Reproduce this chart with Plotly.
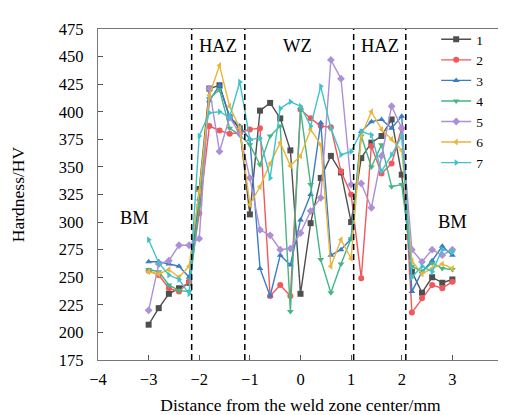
import plotly.graph_objects as go

x_mm = [round(-3 + 0.2 * i, 1) for i in range(31)]

s1 = [207, 222, 235, 240, 245, 330, 421, 424, 395, 385, 307, 401, 408, 394, 365, 235,
      299, 340, 360, 345, 300, 358, 372, 378, 393, 343, 255, 236, 250, 245, 248]
s2 = [256, 252, 240, 237, 246, 308, 387, 383, 380, 381, 384, 385, 233, 243, 233, 402,
      394, 387, 386, 346, 325, 249, 369, 344, 353, 385, 218, 231, 243, 240, 246]
s3 = [264, 264, 262, 260, 250, 321, 410, 424, 395, 387, 375, 258, 233, 270, 261, 302,
      325, 390, 270, 275, 285, 382, 391, 393, 385, 396, 237, 255, 265, 278, 270]
s4 = [257, 255, 243, 238, 237, 315, 412, 420, 385, 379, 370, 352, 378, 387, 219, 402,
      334, 266, 236, 262, 285, 378, 350, 370, 332, 334, 260, 255, 263, 258, 257]
s5 = [220, 262, 265, 279, 279, 285, 421, 364, 395, 380, 340, 293, 288, 275, 276, 290,
      310, 322, 447, 430, 334, 335, 313, 360, 405, 385, 275, 264, 275, 270, 275]
s6 = [255, 253, 257, 250, 260, 328, 415, 442, 405, 385, 316, 332, 353, 372, 351, 360,
      384, 370, 260, 284, 267, 378, 400, 384, 375, 365, 265, 253, 258, 262, 258]
s7 = [284, 263, 252, 248, 235, 378, 399, 400, 395, 427, 375, 376, 340, 403, 409, 405,
      387, 423, 385, 361, 364, 382, 379, 346, 361, 378, 250, 260, 255, 275, 273]

names = ["1", "2", "3", "4", "5", "6", "7"]
series = [s1, s2, s3, s4, s5, s6, s7]
colors = ["#4f4f4f", "#f0595b", "#3a7cc6", "#44b686", "#ad8fd6", "#e9b53c", "#3fc3cb"]
symbols = ["square", "circle", "triangle-up", "triangle-down", "diamond",
           "triangle-left", "triangle-right"]

boundaries = [-2.15, -1.1, 1.05, 2.08]
zone_labels = ["BM", "HAZ", "WZ", "HAZ", "BM"]
zone_x = [-3.28, -1.62, -0.05, 1.58, 3.0]
zone_y = [304, 460, 460, 460, 300]

font_family = "Liberation Serif, Times New Roman, serif"

fig = go.Figure()
for nm, ys, c, sym in zip(names, series, colors, symbols):
    fig.add_trace(go.Scatter(
        x=x_mm, y=ys, name=nm, mode="lines+markers",
        line=dict(color=c, width=1.4),
        marker=dict(color=c, symbol=sym, size=6),
    ))

for b in boundaries:
    fig.add_shape(type="line", x0=b, x1=b, y0=0, y1=1, xref="x", yref="paper",
                  line=dict(color="black", width=1.5, dash="6px,4px"))

for t, xx, yy in zip(zone_labels, zone_x, zone_y):
    fig.add_annotation(x=xx, y=yy, text=t, showarrow=False,
                       font=dict(size=18.5, color="black", family=font_family))

fig.update_layout(
    width=506, height=415,
    margin=dict(l=90, r=11, t=21, b=63),
    paper_bgcolor="white", plot_bgcolor="white",
    font=dict(family=font_family, size=16.5, color="black"),
    showlegend=True,
    legend=dict(x=0.835, y=1.015, xanchor="left", yanchor="top",
                bgcolor="rgba(0,0,0,0)", font=dict(size=13.5),
                tracegroupgap=0),
)
fig.update_xaxes(range=[-4, 4], tickmode="array", tickvals=[-4, -3, -2, -1, 0, 1, 2, 3, 4],
                 ticks="inside", ticklen=5, tickcolor="#555", ticklabelstandoff=4,
                 showline=True, linecolor="#777", linewidth=1.2, mirror=True,
                 showgrid=False, zeroline=False, automargin=False,
                 title=dict(text="Distance from the weld zone center/mm", font=dict(size=17.5), standoff=10))
fig.update_yaxes(range=[175, 475], tickmode="linear", tick0=175, dtick=25,
                 ticks="inside", ticklen=5, tickcolor="#555", ticklabelstandoff=10,
                 showline=True, linecolor="#777", linewidth=1.2, mirror=True,
                 showgrid=False, zeroline=False, automargin=False,
                 title=dict(text="Hardness/HV", font=dict(size=17.5), standoff=34))

fig.write_html("out.html")
